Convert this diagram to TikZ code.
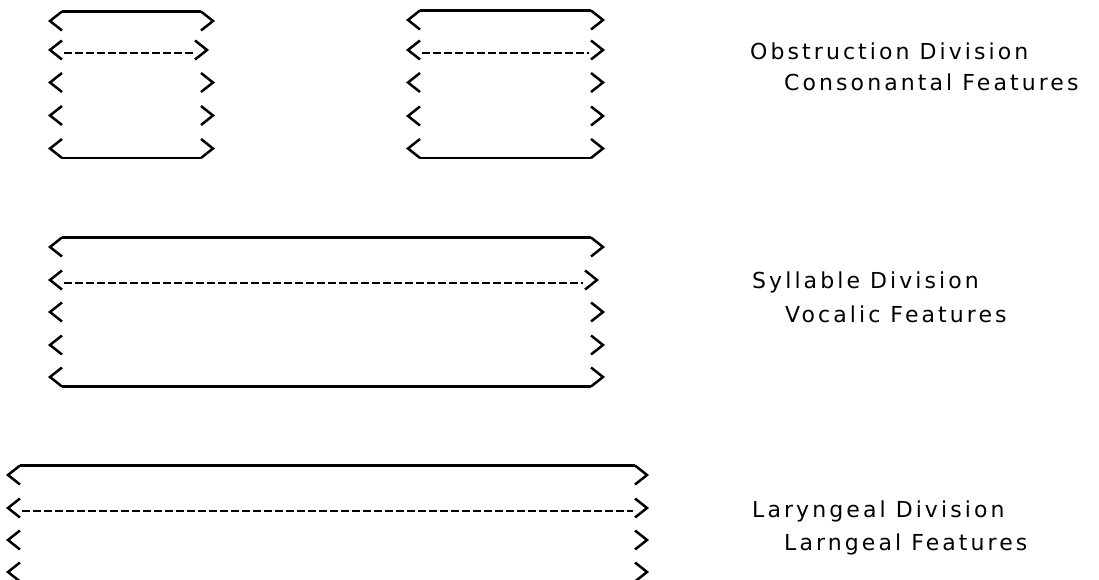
\documentclass[tikz,border=0pt]{standalone}
\usepackage{fontspec}
\newfontfamily\labelfont[LetterSpace=14]{DejaVu Sans}

\tikzset{
  glyph/.style={line width=2.5pt, line join=miter},
  rule/.style={line width=2.8pt},
  dashrule/.style={line width=2.6pt, dash pattern=on 7.5pt off 3.5pt},
  caption/.style={font=\labelfont\fontsize{22}{26}\selectfont, anchor=base west, inner sep=0pt}
}

% one row of feature brackets: name, left tip x, right tip x, centre y
\newcommand\featrow[4]{%
  \coordinate (#1-l) at (#2,#4);
  \coordinate (#1-r) at (#3,#4);
  \draw[glyph] ([shift={(12,-9.5)}]#1-l) -- (#1-l) -- ([shift={(12,9.5)}]#1-l);
  \draw[glyph] ([shift={(-12,-9.5)}]#1-r) -- (#1-r) -- ([shift={(-12,9.5)}]#1-r);
}
% solid rule over the top row and under the bottom row
\newcommand\toprule[1]{\draw[rule] ([shift={(12,-9.5)}]#1-l) -- ([shift={(-12,-9.5)}]#1-r);}
\newcommand\botrule[1]{\draw[rule] ([shift={(12,9.5)}]#1-l) -- ([shift={(-12,9.5)}]#1-r);}
% dashed rule across a row
\newcommand\dashrow[1]{\draw[dashrule] ([shift={(14,3)}]#1-l) -- ([shift={(-14,3)}]#1-r);}

\begin{document}
\begin{tikzpicture}[x=1pt,y=-1pt]
\useasboundingbox (0,0) rectangle (1099,580);

% obstruction division, first segment
\featrow{a1}{50}{213}{21}
\featrow{a2}{50}{207}{50}
\featrow{a3}{50}{213}{82.5}
\featrow{a4}{50}{213}{115.5}
\featrow{a5}{50}{213}{148.5}
\toprule{a1}\botrule{a5}\dashrow{a2}

% obstruction division, second segment
\featrow{b1}{408}{603}{20}
\featrow{b2}{408}{603}{50}
\featrow{b3}{408}{603}{82.5}
\featrow{b4}{408}{603}{116}
\featrow{b5}{408}{603}{148.5}
\toprule{b1}\botrule{b5}\dashrow{b2}

% syllable division
\featrow{c1}{50}{603}{247}
\featrow{c2}{50}{597}{280}
\featrow{c3}{50}{603}{312}
\featrow{c4}{50}{603}{345}
\featrow{c5}{50}{603}{377}
\toprule{c1}\botrule{c5}\dashrow{c2}

% laryngeal division
\featrow{d1}{8}{647}{475}
\featrow{d2}{8}{647}{508}
\featrow{d3}{8}{647}{540}
\featrow{d4}{8}{647}{572}
\toprule{d1}\dashrow{d2}

% division captions
\node[caption] (obs)  at (750,60)  {Obstruction Division};
\node[caption] (cons) at (784,91)  {Consonantal Features};
\node[caption] (syl)  at (752,288) {Syllable Division};
\node[caption] (voc)  at (785,322) {Vocalic Features};
\node[caption] (lar)  at (752,517) {Laryngeal Division};
\node[caption] (larf) at (784,550) {Larngeal Features};
\end{tikzpicture}
\end{document}
